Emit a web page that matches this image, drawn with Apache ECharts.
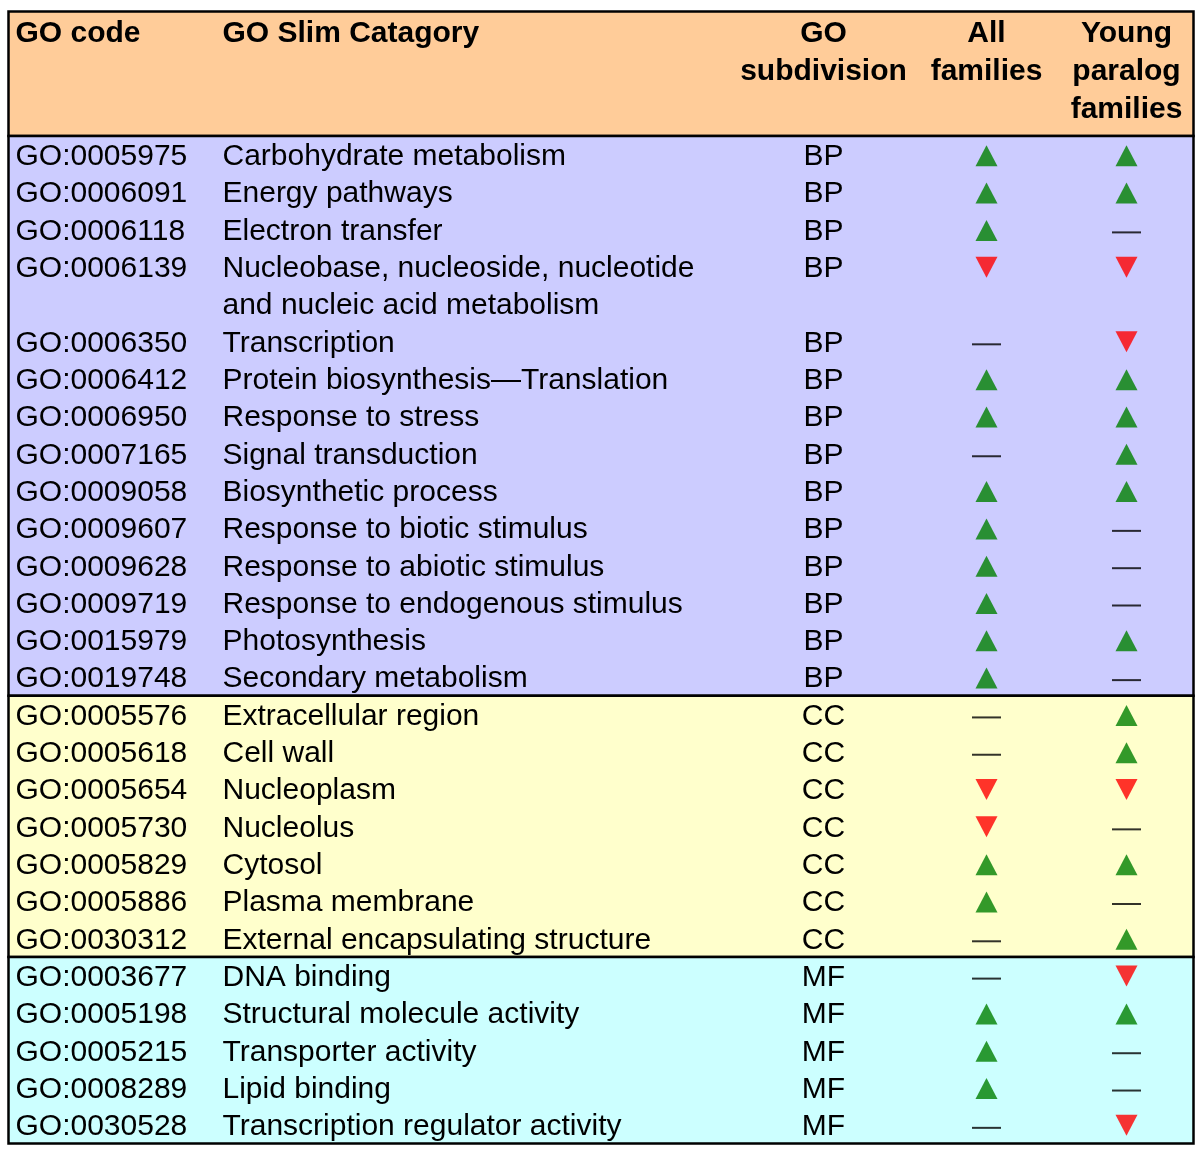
<!DOCTYPE html>
<html><head><meta charset="utf-8">
<script src="https://cdn.jsdelivr.net/npm/echarts@6/dist/echarts.min.js"></script>
<style>html,body{margin:0;padding:0;background:#fff}#c{width:1200px;height:1151px}</style>
</head><body><div id="c"></div>
<script>
// ---------- DATA ----------
const headers = ['GO code', 'GO Slim Catagory', 'GO\nsubdivision', 'All\nfamilies', 'Young\nparalog\nfamilies'];
const goCodes = [
  'GO:0005975','GO:0006091','GO:0006118','GO:0006139','GO:0006350','GO:0006412','GO:0006950',
  'GO:0007165','GO:0009058','GO:0009607','GO:0009628','GO:0009719','GO:0015979','GO:0019748',
  'GO:0005576','GO:0005618','GO:0005654','GO:0005730','GO:0005829','GO:0005886','GO:0030312',
  'GO:0003677','GO:0005198','GO:0005215','GO:0008289','GO:0030528'
];
const categories = [
  'Carbohydrate metabolism','Energy pathways','Electron transfer',
  'Nucleobase, nucleoside, nucleotide\nand nucleic acid metabolism',
  'Transcription','Protein biosynthesis\u2014Translation','Response to stress',
  'Signal transduction','Biosynthetic process','Response to biotic stimulus',
  'Response to abiotic stimulus','Response to endogenous stimulus','Photosynthesis',
  'Secondary metabolism',
  'Extracellular region','Cell wall','Nucleoplasm','Nucleolus','Cytosol','Plasma membrane',
  'External encapsulating structure',
  'DNA binding','Structural molecule activity','Transporter activity','Lipid binding',
  'Transcription regulator activity'
];
const subdivisions = [
  'BP','BP','BP','BP','BP','BP','BP','BP','BP','BP','BP','BP','BP','BP',
  'CC','CC','CC','CC','CC','CC','CC',
  'MF','MF','MF','MF','MF'
];
const allFamilies = [
  'up','up','up','down','none','up','up','none','up','up','up','up','up','up',
  'none','none','down','down','up','up','none',
  'none','up','up','up','none'
];
const youngFamilies = [
  'up','up','none','down','down','up','up','up','up','none','none','none','up','none',
  'up','up','down','none','up','none','up',
  'down','up','none','none','down'
];

// ---------- LAYOUT / STYLE ----------
const HEADER_LINES = 3.34;
const XMAX = 1185;
const colX = [7, 214, 815, 978, 1118];
const colAlign = ['left', 'left', 'center', 'center', 'center'];
const headerLineY = [0.6, 1.618, 2.636];
const TEXT_DY = 0.055;
const sectionColors = { header: '#FFCC99', BP: '#CCCCFF', CC: '#FFFFCC', MF: '#CCFFFF' };
const FONT = '"Liberation Sans", Arial, Helvetica, sans-serif';

// row starting positions (in line units)
const rowStart = [];
let acc = HEADER_LINES;
categories.forEach(c => { rowStart.push(acc); acc += c.split('\n').length; });
const TOTAL = acc;

// sections
const sections = [[0, HEADER_LINES, 'header']];
subdivisions.forEach((s, i) => {
  const end = rowStart[i] + categories[i].split('\n').length;
  const last = sections[sections.length - 1];
  if (last[2] === s) last[1] = end; else sections.push([rowStart[i], end, s]);
});

function markerItem(col, i, v) {
  const y = rowStart[i] + 0.5;
  if (v === 'up') return { value: [colX[col], y], symbol: 'triangle', symbolSize: [22, 21], symbolOffset: [0, 1], itemStyle: { color: '#008000' } };
  if (v === 'down') return { value: [colX[col], y], symbol: 'triangle', symbolRotate: 180, symbolSize: [22, 21], symbolOffset: [0, 0.5], itemStyle: { color: '#FF0000' } };
  return { value: [colX[col], y], symbol: 'rect', symbolSize: [29, 2], symbolOffset: [0, 3], itemStyle: { color: '#000' } };
}

const chart = echarts.init(document.getElementById('c'), null, { renderer: 'canvas' });
chart.setOption({
  animation: false,
  backgroundColor: '#fff',
  grid: { left: 8.5, right: 6.5, top: 11.5, bottom: 7.5 },
  xAxis: { type: 'value', min: 0, max: XMAX, show: false },
  yAxis: { type: 'value', min: 0, max: TOTAL, inverse: true, show: false },
  series: [
    {
      type: 'custom', silent: true, z: 1,
      data: sections.map((s, i) => [i]),
      renderItem: function (params, api) {
        const s = sections[params.dataIndex];
        const p0 = api.coord([0, s[0]]);
        const p1 = api.coord([XMAX, s[1]]);
        return { type: 'rect', shape: { x: p0[0], y: p0[1], width: p1[0] - p0[0], height: p1[1] - p0[1] },
          style: { fill: sectionColors[s[2]], stroke: '#000', lineWidth: 2.5 } };
      }
    },
    {
      type: 'custom', silent: true, z: 3,
      data: headers.map((h, i) => [i]),
      renderItem: function (params, api) {
        const i = params.dataIndex;
        const lines = headers[i].split('\n');
        return { type: 'group', children: lines.map((t, k) => {
          const p = api.coord([colX[i], headerLineY[k]]);
          return { type: 'text', style: { text: t, x: p[0], y: p[1], align: colAlign[i], verticalAlign: 'middle',
            font: 'bold 30px ' + FONT, fill: '#000' } };
        }) };
      }
    },
    {
      type: 'custom', silent: true, z: 3,
      data: goCodes.map((c, i) => [i]),
      renderItem: function (params, api) {
        const i = params.dataIndex;
        const children = [];
        const cells = [goCodes[i], categories[i], subdivisions[i]];
        cells.forEach((cell, col) => {
          cell.split('\n').forEach((t, k) => {
            const p = api.coord([colX[col], rowStart[i] + k + 0.5 + TEXT_DY]);
            children.push({ type: 'text', style: { text: t, x: p[0], y: p[1], align: colAlign[col], verticalAlign: 'middle',
              font: '30px ' + FONT, fill: '#000' } });
          });
        });
        return { type: 'group', children: children };
      }
    },
    {
      type: 'scatter', silent: true, z: 4,
      data: allFamilies.map((v, i) => markerItem(3, i, v))
    },
    {
      type: 'scatter', silent: true, z: 4,
      data: youngFamilies.map((v, i) => markerItem(4, i, v))
    }
  ]
});
</script>
</body></html>
